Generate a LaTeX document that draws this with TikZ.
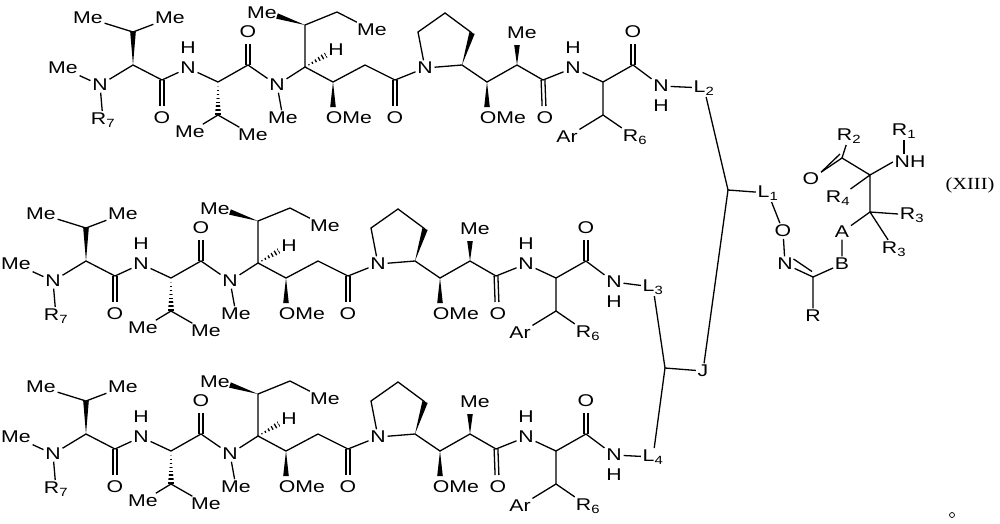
\documentclass[tikz,border=0pt]{standalone}
\usepackage{fontspec}
\setmainfont{Liberation Sans}[FakeStretch=1.25]
\newfontfamily\serifr{Liberation Serif}[FakeStretch=1.2]
\usetikzlibrary{calc}
\newcommand\bwedge[2]{\fill (#1) -- ($(#2)!2.8pt!90:(#1)$) -- ($(#2)!2.8pt!-90:(#1)$) -- cycle;}
\newcommand\hwedge[2]{\begin{scope}\clip (#1) -- ($(#2)!3pt!90:(#1)$) -- ($(#2)!3pt!-90:(#1)$) -- cycle;
 \draw[line width=8pt,dash pattern=on 1.3pt off 2.6pt] (#1) -- (#2);\end{scope}}
\newcommand\dblv[2]{\draw ($(#1)+(-1.9,0)$) -- ($(#2)+(-1.9,0)$); \draw ($(#1)+(1.9,0)$) -- ($(#2)+(1.9,0)$);}
\begin{document}
\begin{tikzpicture}[x=1pt,y=-1pt,line width=1.3pt,
  every node/.style={inner sep=1.2pt,font=\fontsize{17}{17}\selectfont},
  sub/.style={}]
\useasboundingbox[fill=white] (0,0) rectangle (1000,523);
\foreach \r/\dx/\dy in {a/0/0,b/-47/196,c/-47/369}{
\begin{scope}[shift={(\dx,\dy)}]
\coordinate (ch1\r) at (133,32); \coordinate (ca1\r) at (133,65);
\coordinate (c1\r) at (162,80); \coordinate (ca2\r) at (218,82);
\coordinate (ch2\r) at (218,115); \coordinate (c2\r) at (248,65);
\coordinate (c3\r) at (305,67); \coordinate (c4\r) at (305,25);
\coordinate (c5\r) at (337,12); \coordinate (c6\r) at (333,82);
\coordinate (c7\r) at (365,65); \coordinate (c8\r) at (395,80);
\coordinate (p1\r) at (418,32); \coordinate (p2\r) at (445,13);
\coordinate (p3\r) at (472,33); \coordinate (cp\r) at (462,65);
\coordinate (c9\r) at (487,82); \coordinate (c10\r) at (517,65);
\coordinate (c11\r) at (543,80); \coordinate (ca3\r) at (603,82);
\coordinate (cb\r) at (603,115); \coordinate (c12\r) at (633,65);
\node (meA\r) at (88,18) {Me}; \node (meB\r) at (170,18) {Me};
\node (meN\r) at (63,68) {Me}; \node (n1\r) at (100,85) {N};
\node (r7\r) at (103,120) {R\textsubscript{7}};
\node (nh1\r) at (188,68) {N}; \node (h1\r) at (188,48) {H};
\node (meC\r) at (190,132) {Me}; \node (meD\r) at (253,135) {Me};
\node (o1\r) at (162,118) {O}; \node (o2\r) at (248,32) {O};
\node (n2\r) at (277,85) {N}; \node (meE\r) at (283,118) {Me};
\node (hh\r) at (336,50) {H}; \node (meF\r) at (262,13) {Me};
\node (meG\r) at (372,30) {Me};
\node[anchor=west] (ome1\r) at (324,118) {OMe};
\node (o3\r) at (395,118) {O}; \node (n3\r) at (425,68) {N};
\node[anchor=west] (ome2\r) at (478,118) {OMe};
\node (meH\r) at (522,33) {Me}; \node (o4\r) at (545,118) {O};
\node (nh2\r) at (573,68) {N}; \node (h2\r) at (573,48) {H};
\node (ar\r) at (567,137) {Ar}; \node (r6\r) at (635,137) {R\textsubscript{6}};
\node (o5\r) at (633,32) {O};
\node (nh3\r) at (661,86) {N}; \node (h3\r) at (661,106) {H};
\draw (meA\r) -- (ch1\r) -- (meB\r);
\bwedge{ca1\r}{ch1\r}
\draw (meN\r) -- (n1\r) -- (r7\r);
\draw (n1\r) -- (ca1\r) -- (c1\r) -- (nh1\r) -- (ca2\r);
\dblv{c1\r}{162,106}
\hwedge{ca2\r}{ch2\r}
\draw (meC\r) -- (ch2\r) -- (meD\r);
\draw (ca2\r) -- (c2\r) -- (n2\r) -- (meE\r);
\dblv{c2\r}{248,44}
\draw (n2\r) -- (c3\r) -- (c4\r) -- (c5\r) -- (meG\r);
\hwedge{c3\r}{326,55}
\bwedge{c4\r}{277,16}
\draw (c3\r) -- (c6\r) -- (c7\r) -- (c8\r) -- (n3\r) -- (p1\r) -- (p2\r) -- (p3\r);
\bwedge{c6\r}{333,107}
\dblv{c8\r}{395,106}
\bwedge{cp\r}{p3\r}
\draw (n3\r) -- (cp\r) -- (c9\r) -- (c10\r) -- (c11\r) -- (nh2\r) -- (ca3\r) -- (cb\r) -- (ar\r);
\draw (cb\r) -- (r6\r);
\bwedge{c9\r}{487,107}
\bwedge{c10\r}{517,45}
\dblv{c11\r}{544,106}
\draw (ca3\r) -- (c12\r) -- (nh3\r);
\dblv{c12\r}{633,44}
\end{scope}}
% linkers
\node (L2) at (704,88) {L\textsubscript{2}};
\node (L3) at (653,287) {L\textsubscript{3}};
\node (L4) at (653,457) {L\textsubscript{4}};
\node (J) at (703,371) {J};
\node (L1) at (768,193) {L\textsubscript{1}};
\coordinate (j1) at (728,190); \coordinate (j2) at (665,368);
\draw (nh3a) -- (L2); \draw (nh3b) -- (L3); \draw (nh3c) -- (L4);
\draw (L2) -- (j1) -- (L1); \draw (j1) -- (J);
\draw (L3) -- (j2) -- (J); \draw (j2) -- (L4);
% right moiety
\node (ox) at (783,231) {O};
\node (nx) at (785,264) {N};
\coordinate (cx) at (813,277);
\node (rx) at (813,316) {R};
\node (bx) at (842,264) {B};
\node (ax) at (842,232) {A};
\coordinate (c3x) at (870,212);
\node (r3a) at (912,215) {R\textsubscript{3}};
\node (r3b) at (894,249) {R\textsubscript{3}};
\coordinate (cq) at (870,175);
\node (r4) at (838,198) {R\textsubscript{4}};
\node (nhx) at (910,162) {NH};
\node (r1) at (904,131) {R\textsubscript{1}};
\coordinate (cc) at (842,158);
\node (ocx) at (811,179) {O};
\node (r2) at (849,136) {R\textsubscript{2}};
\draw (L1) -- (ox) -- (nx);
\draw (nx) -- (cx) -- (rx); \draw (cx) -- (bx) -- (ax) -- (c3x) -- (r3a);
\draw ($(nx.east)+(-1,-5)$) -- ($(cx)+(-1,-5.5)$);
\draw (c3x) -- (r3b); \draw (c3x) -- (cq) -- (r4);
\draw (cq) -- (nhx.west); \draw (r1) -- ([xshift=-6pt]nhx.north);
\draw (cq) -- (cc) -- (r2); \draw (cc) -- (ocx);
\draw ($(cc)+(-2,-4)$) -- ($(ocx.north east)+(0,1)$);
\node (lbl) at (970,185) {\serifr (XIII)};
\node[circle,draw,line width=0.7pt,minimum size=5pt,inner sep=0pt] (dot) at (952,515) {};
\end{tikzpicture}
\end{document}
